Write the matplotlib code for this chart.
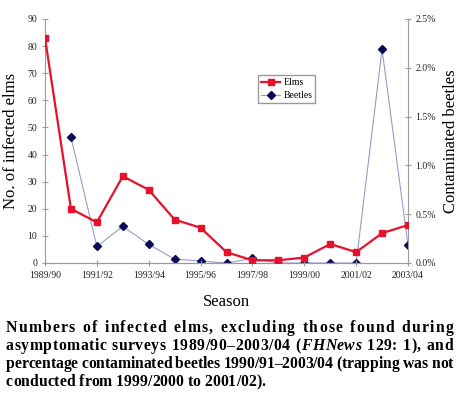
import matplotlib
matplotlib.use("Agg")
import matplotlib.pyplot as plt
from matplotlib.ticker import FuncFormatter, MultipleLocator

plt.rcParams['font.family'] = ['Liberation Serif', 'DejaVu Serif']

seasons = ['1989/90', '1990/91', '1991/92', '1992/93', '1993/94', '1994/95',
           '1995/96', '1996/97', '1997/98', '1998/99', '1999/00', '2000/01',
           '2001/02', '2002/03', '2003/04']
elms = [83, 20, 15, 32, 27, 16, 13, 4, 1, 1, 2, 7, 4, 11, 14]
# beetles start in 1990/91 (percent contaminated)
beetle_seasons = seasons[1:]
beetles = [1.29, 0.17, 0.375, 0.19, 0.04, 0.02, 0.0, 0.048, 0.0, 0.0, 0.0, 0.0, 2.19, 0.18]

caption_lines = [
    [[(w, False)] for w in "Numbers of infected elms, excluding those found during".split()],
    [[("asymptomatic", False)], [("surveys", False)], [("1989/90–2003/04", False)],
     [("(", False), ("FHNews", True)], [("129:", False)], [("1),", False)], [("and", False)]],
    [[(w, False)] for w in "percentage contaminated beetles 1990/91–2003/04 (trapping was not".split()],
    [[(w, False)] for w in "conducted from 1999/2000 to 2001/02).".split()],
]

W, H = 462, 395
fig = plt.figure(figsize=(W / 100, H / 100), dpi=100)
ax = fig.add_axes([45 / W, 1 - 263 / H, (408 - 45) / W, (263 - 19) / H])
ax2 = ax.twinx()

x = list(range(len(seasons)))
xb = [seasons.index(s) for s in beetle_seasons]

ax2.plot(xb, beetles, color='#9a9acc', lw=0.8, marker='D', ms=4.2,
         mfc='#0a0a5a', mec='#0a0a5a', label='Beetles', zorder=2)
ax.plot(x, elms, color='#e8102a', lw=1.6, marker='s', ms=4.5,
        mfc='#e8102a', mec='#e8102a', label='Elms', zorder=3)
ax.set_zorder(ax2.get_zorder() + 1)
ax.patch.set_visible(False)

ax.set_xlim(0, len(seasons) - 1)
ax.set_ylim(0, 90)
ax2.set_ylim(0, 2.5)
ax.yaxis.set_major_locator(MultipleLocator(10))
ax2.yaxis.set_major_locator(MultipleLocator(0.5))
ax2.yaxis.set_major_formatter(FuncFormatter(lambda v, p: f"{v:.1f}%"))
ax.set_xticks(x[::2])
ax.set_xticklabels(seasons[::2])

for a in (ax, ax2):
    for side in ('left', 'right', 'bottom'):
        a.spines[side].set_color('#9a9a9a')
        a.spines[side].set_linewidth(0.8)
    a.spines['top'].set_visible(False)
    a.tick_params(colors='#9a9a9a', labelcolor='#222222', labelsize=7,
                  direction='inout', length=5, width=0.8, pad=3)
ax2.spines['left'].set_visible(False)
ax.spines['right'].set_visible(False)

ax.set_ylabel('No. of infected elms', fontsize=12, labelpad=6)
ax2.set_ylabel('Contaminated beetles', fontsize=12, labelpad=5)
ax.set_xlabel('Season', fontsize=12, labelpad=10)

h1, l1 = ax.get_legend_handles_labels()
h2, l2 = ax2.get_legend_handles_labels()
ax.legend(h1 + h2, l1 + l2, loc='upper left', bbox_to_anchor=(258 / W, 1 - 75 / H),
          bbox_transform=fig.transFigure, fontsize=7, frameon=True, fancybox=False,
          edgecolor='#9a9a9a', framealpha=1, handlelength=2.0, handletextpad=0.3,
          borderpad=0.3, labelspacing=0.45, borderaxespad=0)

# justified caption, placed character by character
renderer = fig.canvas.get_renderer()
cap_size = 11.3
x0, x1 = 6, 453
line_y = [328, 346, 364, 382]


def text_width(s, italic):
    t = fig.text(0, 0, s, fontsize=cap_size, fontweight='bold',
                 family='Liberation Serif', style='italic' if italic else 'normal')
    w = t.get_window_extent(renderer).width
    t.remove()
    return w


space_w = text_width("x x", False) - text_width("xx", False)
for i, words in enumerate(caption_lines):
    glyphs = []  # per word: list of (char, italic, width)
    for word in words:
        g = []
        for txt, it in word:
            for ch in txt:
                g.append((ch, it, text_width(ch, it)))
        glyphs.append(g)
    natural = sum(w for g in glyphs for _, _, w in g) + space_w * (len(glyphs) - 1)
    last = i == len(caption_lines) - 1
    n_letter = sum(len(g) - 1 for g in glyphs)
    word_weight = 3.0
    if last:
        unit = 0.0
    else:
        unit = ((x1 - x0) - natural) / (n_letter + word_weight * (len(glyphs) - 1))
    xp = x0
    for g in glyphs:
        for k, (ch, it, w) in enumerate(g):
            fig.text(xp / W, 1 - line_y[i] / H, ch, fontsize=cap_size, fontweight='bold',
                     family='Liberation Serif', style='italic' if it else 'normal',
                     va='center', ha='left')
            xp += w + (unit if k < len(g) - 1 else 0)
        xp += space_w + word_weight * unit

fig.savefig('out.png', dpi=100)
